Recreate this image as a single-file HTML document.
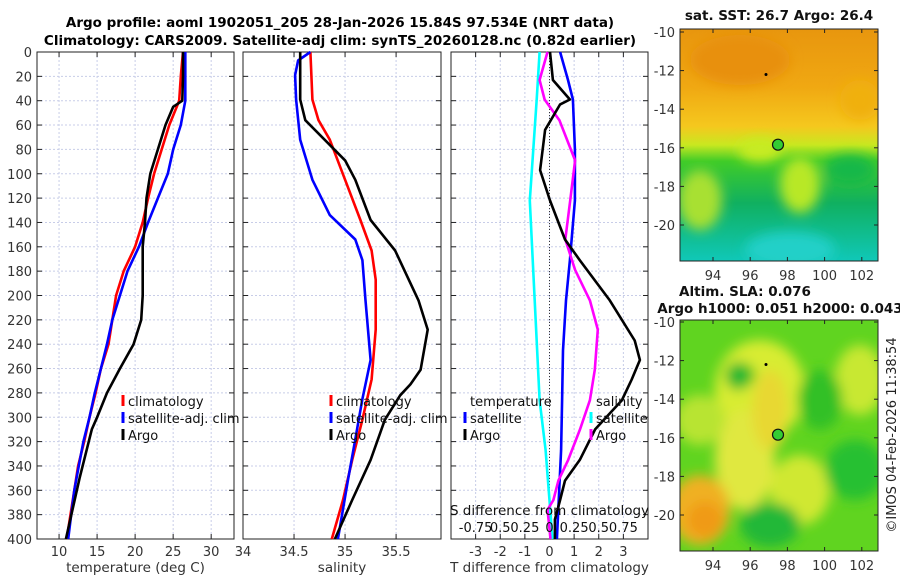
<!DOCTYPE html>
<html><head><meta charset="utf-8">
<style>
body{margin:0;background:#fff;width:900px;height:580px;overflow:hidden;font-family:"Liberation Sans","DejaVu Sans",sans-serif;}
svg text{font-family:"DejaVu Sans","Liberation Sans",sans-serif;}
</style></head>
<body>
<svg id="fig" width="900" height="580" xmlns="http://www.w3.org/2000/svg">
<text x="340" y="27" text-anchor="middle" font-size="13.5" font-weight="bold">Argo profile: aoml 1902051_205 28-Jan-2026 15.84S 97.534E (NRT data)</text>
<text x="340" y="45" text-anchor="middle" font-size="13.5" font-weight="bold">Climatology: CARS2009. Satellite-adj clim: synTS_20260128.nc (0.82d earlier)</text>
<g id="panels"></g>
<g id="maps"></g>
</svg>
<script>
// ---- data ----
const depthTicks=[0,20,40,60,80,100,120,140,160,180,200,220,240,260,280,300,320,340,360,380,400];
const tempTicks=[10,15,20,25,30];
const salTicks=[34,34.5,35,35.5];
const tdiffTicks=[-3,-2,-1,0,1,2,3];
const sdiffTickLabels=["-0.75","0.5","0.25","0","0.25","0.5","0.75"];
const sdiffTicks=[-0.75,-0.5,-0.25,0,0.25,0.5,0.75];
const latTicks=[-10,-12,-14,-16,-18,-20];
const lonTicks=[94,96,98,100,102];

const tClimDepth=[0,20,40,60,80,100,120,140,160,180,200,220,240,260,280,300,320,340,360,380,400];
const tClimVal=[26.3,26,25.8,24.5,23.5,22.5,21.7,21,20,18.5,17.5,17,16.5,15.5,14.8,14,13.3,12.5,12,11.5,11];
const tSatDepth=[0,20,40,60,80,100,120,140,160,180,200,220,240,260,280,300,320,340,360,380,400];
const tSatVal=[26.6,26.6,26.6,26,25,24.3,23,21.7,20.5,19,18,17,16.3,15.5,14.7,14,13.2,12.6,12,11.6,11.2];
const tArgoDepth=[0,20,40,45,60,80,100,120,140,160,180,200,220,240,260,280,300,310,350,400];
const tArgoVal=[26.3,26.3,26.2,25,24,23,22,21.5,21.3,21,21,21,20.8,19.8,18,16.3,15,14.3,12.7,10.9];

const sClimDepth=[0,39,56,72,105,138,163,187,228,269,302,335,368,400];
const sClimVal=[34.66,34.68,34.74,34.85,35.00,35.15,35.26,35.30,35.30,35.26,35.17,35.07,34.98,34.87];
const sSatDepth=[0,7,19,39,72,105,134,154,171,204,253,285,318,351,400];
const sSatVal=[34.66,34.54,34.51,34.52,34.56,34.68,34.85,35.10,35.17,35.20,35.25,35.17,35.10,35.03,34.93];
const sArgoDepth=[0,39,56,72,89,105,138,163,204,228,261,273,282,302,335,368,400];
const sArgoVal=[34.56,34.56,34.61,34.80,35.00,35.10,35.25,35.49,35.72,35.81,35.74,35.64,35.54,35.39,35.25,35.07,34.90];

const dTSatDepth=[0,23,39,80,122,171,204,245,286,327,400];
const dTSatVal=[0.43,0.75,0.95,1.03,1.03,0.83,0.67,0.55,0.51,0.47,0.30];
const dTArgoDepth=[0,23,39,43,64,97,122,154,171,204,237,253,269,286,310,335,352,368,384,400];
const dTArgoVal=[0.02,0.14,0.83,0.43,-0.18,-0.38,0.02,0.63,1.23,2.45,3.46,3.67,3.34,2.94,1.85,1.23,0.63,0.43,0.22,0.22];
const dSSatDepth=[0,39,122,204,286,327,400];
const dSSatVal=[-0.10,-0.13,-0.20,-0.15,-0.10,-0.04,0.03];
const dSArgoDepth=[0,23,39,56,89,122,154,179,204,228,261,286,310,335,352,368,376,400];
const dSArgoVal=[-0.02,-0.10,-0.05,0.10,0.26,0.21,0.16,0.26,0.41,0.49,0.46,0.41,0.31,0.19,0.09,0.04,-0.02,0.01];

const NS="http://www.w3.org/2000/svg";
function el(tag,attrs,parent){const e=document.createElementNS(NS,tag);for(const k in attrs)e.setAttribute(k,attrs[k]);parent.appendChild(e);return e;}
const panelsG=document.getElementById('panels');
const Y0=52,Y1=539;
const yS=d=>Y0+d*(Y1-Y0)/400;

function panel(name,x0,x1,vmin,vmax,ticks,tickLabels,xlabel,showY){
  const g=el('g',{},panelsG);
  
  
  const xS=v=>x0+(v-vmin)/(vmax-vmin)*(x1-x0);
  ticks.forEach((t,i)=>{
    const gl=el('line',{x1:xS(t),x2:xS(t),y1:Y0,y2:Y1,stroke:'#c8cde8','stroke-width':1,'stroke-dasharray':'2,2'},g);
    
    
    el('line',{x1:xS(t),x2:xS(t),y1:Y1,y2:Y1-5,stroke:'#222'},g);
    el('line',{x1:xS(t),x2:xS(t),y1:Y0,y2:Y0+5,stroke:'#222'},g);
    if(tickLabels){const tx=el('text',{x:xS(t),y:556,'text-anchor':'middle','font-size':13,fill:'#333'},g);tx.textContent=tickLabels[i];
      
      }
  });
  depthTicks.forEach(d=>{
    const gl=el('line',{x1:x0,x2:x1,y1:yS(d),y2:yS(d),stroke:'#c8cde8','stroke-width':1,'stroke-dasharray':'2,2'},g);
    
    
    el('line',{x1:x0,x2:x0+5,y1:yS(d),y2:yS(d),stroke:'#222'},g);
    el('line',{x1:x1,x2:x1-5,y1:yS(d),y2:yS(d),stroke:'#222'},g);
    if(showY){const tx=el('text',{x:x0-5,y:yS(d)+5,'text-anchor':'end','font-size':13,fill:'#333'},g);tx.textContent=d;
      
      }
  });
  const fr=el('rect',{x:x0,y:Y0,width:x1-x0,height:Y1-Y0,fill:'none',stroke:'#222','stroke-width':1},g);
  
  
  const xl=el('text',{x:(x0+x1)/2,y:572,'text-anchor':'middle','font-size':13.5,fill:'#333'},g);
  xl.textContent=xlabel;
  
  
  return {g,xS};
}
function line(p,depths,vals,color,name,scale){
  const pts=depths.map((d,i)=>p.xS(vals[i]*(scale||1)).toFixed(1)+','+yS(d).toFixed(1)).join(' ');
  const l=el('polyline',{points:pts,fill:'none',stroke:color,'stroke-width':2.6,'stroke-linejoin':'round'},p.g);
  
  
}
function legend(g,x,y,items){
  items.forEach((it,i)=>{
    el('line',{x1:x,x2:x,y1:y+i*17-11,y2:y+i*17,stroke:it[1],'stroke-width':3},g);
    const t=el('text',{x:x+5,y:y+i*17,'font-size':13,fill:'#111'},g);t.textContent=it[0];
    
    
  });
}

const p1=panel('temperature-panel',37,234,7.1,33,tempTicks,tempTicks.map(String),'temperature (deg C)',true);
line(p1,tClimDepth,tClimVal,'#f00','climatology-temp-line');
line(p1,tSatDepth,tSatVal,'#00f','satellite-temp-line');
line(p1,tArgoDepth,tArgoVal,'#000','argo-temp-line');
legend(p1.g,123,406,[['climatology','#f00'],['satellite-adj. clim','#00f'],['Argo','#000']]);

const p2=panel('salinity-panel',243,441,34,35.94,salTicks,salTicks.map(String),'salinity',false);
line(p2,sClimDepth,sClimVal,'#f00','climatology-salinity-line');
line(p2,sSatDepth,sSatVal,'#00f','satellite-salinity-line');
line(p2,sArgoDepth,sArgoVal,'#000','argo-salinity-line');
legend(p2.g,331,406,[['climatology','#f00'],['satellite-adj. clim','#00f'],['Argo','#000']]);

const p3=panel('difference-panel',451,648,-4,4,tdiffTicks,tdiffTicks.map(String),'T difference from climatology',false);
el('line',{x1:p3.xS(0),x2:p3.xS(0),y1:Y0,y2:Y1,stroke:'#333','stroke-dasharray':'1,2'},p3.g);
line(p3,dSSatDepth,dSSatVal,'#0ff','satellite-sdiff-line',4);
line(p3,dTSatDepth,dTSatVal,'#00f','satellite-tdiff-line');
line(p3,dSArgoDepth,dSArgoVal,'#f0f','argo-sdiff-line',4);
line(p3,dTArgoDepth,dTArgoVal,'#000','argo-tdiff-line');
{const t=el('text',{x:470,y:406,'font-size':13,fill:'#111'},p3.g);t.textContent='temperature';

const t2=el('text',{x:596,y:406,'font-size':13,fill:'#111'},p3.g);t2.textContent='salinity';
}
legend(p3.g,465,423,[['satellite','#00f'],['Argo','#000']]);
legend(p3.g,591,423,[['satellite','#0ff'],['Argo','#f0f']]);
{const t=el('text',{x:p3.xS(0),y:515,'text-anchor':'middle','font-size':13.5,fill:'#111'},p3.g);t.textContent='S difference from climatology';

sdiffTicks.forEach((v,i)=>{const tx=el('text',{x:p3.xS(v*4),y:532,'text-anchor':'middle','font-size':13,fill:'#111'},p3.g);tx.textContent=sdiffTickLabels[i];
});}

// ---- maps ----
const mapsG=document.getElementById('maps');
const defs=el('defs',{},mapsG);
const f=el('filter',{id:'blur',x:'-20%',y:'-20%',width:'140%',height:'140%'},defs);
el('feGaussianBlur',{stdDeviation:6},f);
const cp1=el('clipPath',{id:'c1'},defs);el('rect',{x:680,y:29,width:198,height:232},cp1);
const cp2=el('clipPath',{id:'c2'},defs);el('rect',{x:680,y:320,width:198,height:231},cp2);
const lg=el('linearGradient',{id:'sstg',x1:0,y1:0,x2:0,y2:1},defs);
[[0,'#e8960e'],[0.25,'#f0a812'],[0.42,'#f5c81e'],[0.5,'#c8e820'],[0.57,'#40cc28'],[0.75,'#10b060'],[1,'#10c8b8']].forEach(s=>el('stop',{offset:s[0],'stop-color':s[1]},lg));

function mapAxes(name,x0,y0,y1,latTop,latPx,titleLines){
  const g=el('g',{},mapsG);
  
  
  latTicks.forEach((la,i)=>{const y=latTop+i*latPx;
    el('line',{x1:x0,x2:x0+4,y1:y,y2:y,stroke:'#222'},g);el('line',{x1:878,x2:874,y1:y,y2:y,stroke:'#222'},g);
    const t=el('text',{x:x0-5,y:y+5,'text-anchor':'end','font-size':13,fill:'#333'},g);t.textContent=la;
    });
  lonTicks.forEach((lo,i)=>{const x=713+i*37.2;
    el('line',{x1:x,x2:x,y1:y1,y2:y1-4,stroke:'#222'},g);el('line',{x1:x,x2:x,y1:y0,y2:y0+4,stroke:'#222'},g);
    const t=el('text',{x:x,y:y1+19,'text-anchor':'middle','font-size':13,fill:'#333'},g);t.textContent=lo;
    });
  el('rect',{x:x0,y:y0,width:878-x0,height:y1-y0,fill:'none',stroke:'#222'},g);
  titleLines.forEach(tl=>{const t=el('text',{x:tl[1],y:tl[2],'text-anchor':'middle','font-size':13.5,'font-weight':'bold',fill:'#111'},g);t.textContent=tl[0];
    });
  const c=el('circle',{cx:778,cy:latTop+2.92*latPx,r:5.5,fill:'#3c3',stroke:'#111','stroke-width':1.2},g);
  
  el('circle',{cx:766,cy:latTop+1.1*latPx,r:1.5,fill:'#000'},g);
  return g;
}
// SST map
const m1=el('g',{'clip-path':'url(#c1)'},mapsG);

el('rect',{x:680,y:29,width:198,height:232,fill:'url(#sstg)'},m1);
const b1=el('g',{filter:'url(#blur)'},m1);
[[700,200,22,30,'#a8e030'],[760,150,22,12,'#c8ec20'],[800,185,20,28,'#b8e828'],[790,250,45,18,'#20d0c8'],[850,170,25,15,'#18b848'],[740,60,50,25,'#e8900c'],[860,100,20,20,'#f0b010']].forEach(e=>el('ellipse',{cx:e[0],cy:e[1],rx:e[2],ry:e[3],fill:e[4]},b1));
// SLA map
const m2=el('g',{'clip-path':'url(#c2)'},mapsG);

el('rect',{x:680,y:320,width:198,height:231,fill:'#60d420'},m2);
const b2=el('g',{filter:'url(#blur)'},m2);
[[760,390,45,50,'#d8ec30'],[745,460,30,50,'#e0e840'],[700,510,30,35,'#f0b020'],[800,490,30,35,'#d0e830'],[860,380,25,35,'#c8e830'],[700,420,25,25,'#b8e430'],[770,410,18,40,'#e8d830'],[705,520,18,18,'#f09a18'],[820,400,22,30,'#30c028'],[740,375,15,12,'#28c028'],[770,525,30,22,'#20b838'],[855,470,30,30,'#28c030'],[738,376,12,14,'#20b830']].forEach(e=>el('ellipse',{cx:e[0],cy:e[1],rx:e[2],ry:e[3],fill:e[4]},b2));

mapAxes('sst-map-axes',680,29,261,32,38.6,[['sat. SST: 26.7 Argo: 26.4',779,20]]);
mapAxes('sla-map-axes',680,320,551,322,38.6,[['Altim. SLA: 0.076',745,296],['Argo h1000: 0.051 h2000: 0.043',780,313]]);
{const t=el('text',{x:0,y:0,'font-size':13,fill:'#222',transform:'translate(896,435) rotate(-90)','text-anchor':'middle'},mapsG);t.textContent='©IMOS 04-Feb-2026 11:38:54';
}
</script>
</body></html>
